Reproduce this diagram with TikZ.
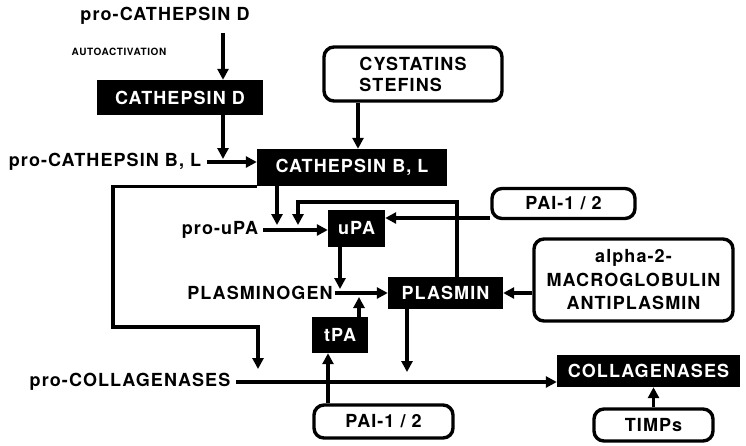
\documentclass[tikz,border=0pt]{standalone}
\usepackage{fontspec}
\newfontfamily\lab[LetterSpace=6]{TeX Gyre Heros}
\usetikzlibrary{arrows.meta}
\begin{document}
\begin{tikzpicture}[x=1pt,y=-1pt,
  every node/.style={font=\lab\bfseries\fontsize{18}{21}\selectfont, inner sep=0pt},
  blk/.style={fill=black, text=white},
  rbox/.style={draw, line width=3.4pt, rounded corners=10pt, align=center},
  small/.style={font=\lab\bfseries\fontsize{10}{11}\selectfont},
  arr/.style={line width=3.4pt, -{Triangle[length=11pt,width=11pt]}}]
\fill[white] (0,0) rectangle (746,445);
\useasboundingbox (0,0) rectangle (746,445);
% nodes
\node (proD) at (165,16) {pro-CATHEPSIN D};
\node[small] (auto) at (119,52) {AUTOACTIVATION};
\node[blk, minimum width=166pt, minimum height=35pt] (cathD) at (180,97.5) {CATHEPSIN D};
\node (proBL) at (105,162) {pro-CATHEPSIN B, L};
\node[blk, minimum width=190pt, minimum height=37pt] (cathBL) at (352,167.5) {CATHEPSIN B, L};
\node[rbox, minimum width=178pt, minimum height=54pt, align=left] (cyst) at (413,74) {CYSTATINS\\STEFINS};
\node (proUPA) at (220,230) {pro-uPA};
\node[blk, minimum width=57pt, minimum height=37pt] (uPA) at (356.5,228.5) {uPA};
\node[rbox, minimum width=143pt, minimum height=30pt] (pai1) at (563.5,203.5) {PAI-1 / 2};
\node (plg) at (260,293) {PLASMINOGEN};
\node[blk, minimum width=115pt, minimum height=32pt] (plm) at (445.5,293) {PLASMIN};
\node[rbox, minimum width=199pt, minimum height=82pt, font=\lab\bfseries\fontsize{18}{23.5}\selectfont] (alpha) at (633.5,280) {alpha-2-\\MACROGLOBULIN\\ANTIPLASMIN};
\node[blk, minimum width=56pt, minimum height=36pt] (tPA) at (340,335) {tPA};
\node (proC) at (130,382) {pro-COLLAGENASES};
\node[blk, minimum width=183pt, minimum height=32pt] (coll) at (648.5,371) {COLLAGENASES};
\node[rbox, minimum width=119pt, minimum height=32pt] (timp) at (653.5,425) {TIMPs};
\node[rbox, minimum width=139pt, minimum height=33pt] (pai2) at (383.5,421.5) {PAI-1 / 2};
% helper coordinates
\coordinate (xD) at (223,0);
\coordinate (xC) at (358,0);
\coordinate (c1) at (113,327);
\coordinate (c2) at (258,327);
\coordinate (x277) at (277,0);
\coordinate (b1) at (457,202);
\coordinate (b2) at (298,202);
\coordinate (y218) at (0,218);
\coordinate (x340) at (340,0);
\coordinate (x359) at (359,0);
\coordinate (x407) at (407,0);
\coordinate (x328) at (328,0);
% connectors
\draw[arr, shorten <=8pt] (proD.south -| xD) -- (cathD.north -| xD);
\draw[arr, shorten >=3pt] (cathD.south -| xD) -- (proBL.east -| xD);
\draw[arr, shorten <=6pt] (proBL.east) -- (proBL.east -| cathBL.west);
\draw[arr] (cyst.south -| xC) -- (cathBL.north -| xC);
\draw[arr, shorten >=13pt] (cathBL.south west) -| (c1) -- (c2) -- (c2 |- proC);
\draw[arr, shorten >=5pt] (cathBL.south -| x277) -- (proUPA.east -| x277);
\draw[arr, shorten >=5pt] (plm.north -| b1) -- (b1) -- (b2) -- (b2 |- proUPA.east);
\draw[arr, shorten <=5pt] (proUPA.east) -- (uPA.west |- proUPA.east);
\draw[arr] (pai1.west |- y218) -- (uPA.east |- y218);
\draw[arr, shorten >=4pt] (uPA.south -| x340) -- (plg.east -| x340);
\draw[arr, shorten <=2pt] (plg.east) -- (plm.west |- plg.east);
\draw[arr, shorten >=4pt] (tPA.north -| x359) -- (plg.east -| x359);
\draw[arr] (alpha.west |- plm.east) -- (plm.east);
\draw[arr, shorten >=10pt] (plm.south -| x407) -- (proC.east -| x407);
\draw[arr, shorten <=6pt] (proC.east) -- (coll.west |- proC.east);
\draw[arr] (pai2.north -| x328) -- (tPA.south -| x328);
\draw[arr] (timp.north) -- (timp.north |- coll.south);
\end{tikzpicture}
\end{document}
